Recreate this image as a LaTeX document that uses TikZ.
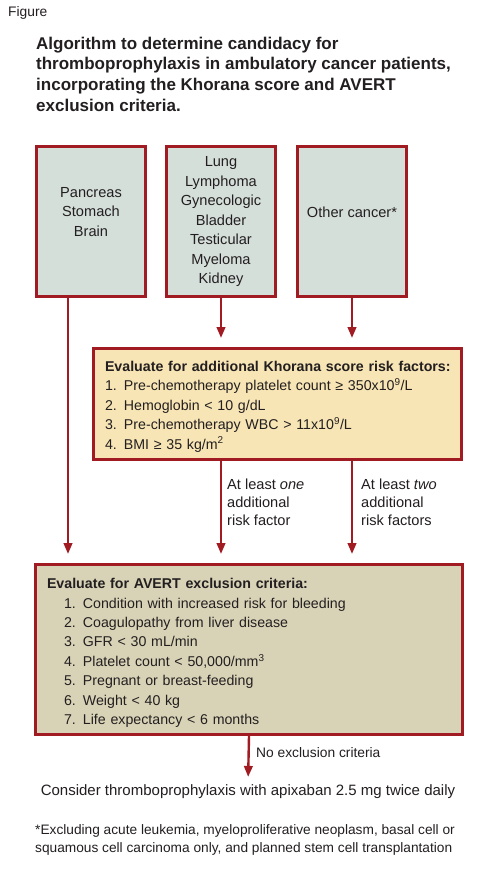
\documentclass[tikz,border=0pt]{standalone}
\usepackage{fontspec}
\setmainfont{Liberation Sans}
\definecolor{framered}{HTML}{A01C22}
\definecolor{cancerfill}{HTML}{D5DFDA}
\definecolor{khoranafill}{HTML}{F7E5B5}
\definecolor{avertfill}{HTML}{D8D3B6}
\definecolor{darktext}{HTML}{231F20}
\usetikzlibrary{arrows.meta, positioning, calc}

\begin{document}
\begin{tikzpicture}[x=1pt, y=-1pt,
  every node/.style={font=\fontsize{14.6}{19.5}\selectfont, text=darktext},
  arrow/.style={-{Triangle[length=11pt, width=8.5pt]}, line width=2.4pt, color=framered},
  cancerbox/.style={draw=framered, line width=3pt, fill=cancerfill, align=center,
                    minimum width=109pt, minimum height=150pt, inner sep=0pt},
  criteria/.style={draw=framered, line width=3pt, align=left, inner xsep=11.5pt,
                   inner ysep=0pt, font=\fontsize{14.2}{19.4}\selectfont},
  branch/.style={align=left, inner sep=0pt, font=\fontsize{14.6}{18}\selectfont},
]
  \useasboundingbox[fill=white] (0,0) rectangle (496,875);

  % Heading
  \node[anchor=west, inner sep=0pt, font=\fontsize{13.8}{16}\selectfont] (figlabel) at (8,13) {Figure};
  \node[anchor=north west, align=left, inner sep=0pt, font=\bfseries\fontsize{17}{20.7}\selectfont]
    (title) at (36,36.6)
    {Algorithm to determine candidacy for\\
     thromboprophylaxis in ambulatory cancer patients,\\
     incorporating the Khorana score and AVERT\\
     exclusion criteria.};

  % Cancer types
  \node[cancerbox] (pancreas) at (91,221.5) {Pancreas\\Stomach\\Brain\\~};
  \node[cancerbox] (lung) at (221,221.5)
    {Lung\\Lymphoma\\Gynecologic\\Bladder\\Testicular\\Myeloma\\Kidney};
  \node[cancerbox] (other) at (352,221.5) {Other cancer*\\~};

  % Khorana score
  \node[criteria, fill=khoranafill, text width=345pt, minimum height=111pt] (khorana) at (277.5,404)
    {\rule{0pt}{15.5pt}\mbox{\bfseries Evaluate for additional Khorana score risk factors:}\\
     1. Pre-chemotherapy platelet count ≥ 350x10\textsuperscript{9}/L\\
     2. Hemoglobin < 10 g/dL\\
     3. Pre-chemotherapy WBC > 11x10\textsuperscript{9}/L\\
     4. BMI ≥ 35 kg/m\textsuperscript{2}};

  % AVERT exclusion
  \node[criteria, fill=avertfill, text width=404pt, minimum height=170pt] (avert) at (249,649.5)
    {\rule{0pt}{17pt}\textbf{Evaluate for AVERT exclusion criteria:}\\
     \hspace*{17pt}1. Condition with increased risk for bleeding\\
     \hspace*{17pt}2. Coagulopathy from liver disease\\
     \hspace*{17pt}3. GFR < 30 mL/min\\
     \hspace*{17pt}4. Platelet count < 50,000/mm\textsuperscript{3}\\
     \hspace*{17pt}5. Pregnant or breast-feeding\\
     \hspace*{17pt}6. Weight < 40 kg\\
     \hspace*{17pt}7. Life expectancy < 6 months};

  \node[anchor=base, inner sep=0pt, font=\fontsize{15}{18}\selectfont] (consider) at (248,795)
    {Consider thromboprophylaxis with apixaban 2.5 mg twice daily};

  % Branch labels
  \node[branch, anchor=west] (onefactor) at (227,502) {At least \textit{one}\\additional\\risk factor};
  \node[branch, anchor=west] (twofactors) at (361,502) {At least \textit{two}\\additional\\risk factors};
  \node[anchor=west, inner sep=0pt, font=\fontsize{13.8}{16}\selectfont] (noexcl) at (256,753)
    {No exclusion criteria};

  % Connectors
  \draw[arrow, shorten >=9pt] ([xshift=-23pt]pancreas.south) -- ([xshift=-23pt]pancreas.south |- avert.north);
  \draw[arrow, shorten >=9pt] (lung.south) -- (lung.south |- khorana.north);
  \draw[arrow, shorten >=9pt] (other.south) -- (other.south |- khorana.north);
  \draw[arrow, shorten >=9pt] (khorana.south -| lung.south) -- (lung.south |- avert.north);
  \draw[arrow, shorten >=9pt] (khorana.south -| other.south) -- (other.south |- avert.north);
  \draw[arrow, shorten >=7pt] (avert.south) -- (consider.north);

  % Footnote
  \node[anchor=north west, align=left, inner sep=0pt, font=\fontsize{13.7}{18}\selectfont] (footnote) at (35,824)
    {*Excluding acute leukemia, myeloproliferative neoplasm, basal cell or\\
     squamous cell carcinoma only, and planned stem cell transplantation};
\end{tikzpicture}
\end{document}
